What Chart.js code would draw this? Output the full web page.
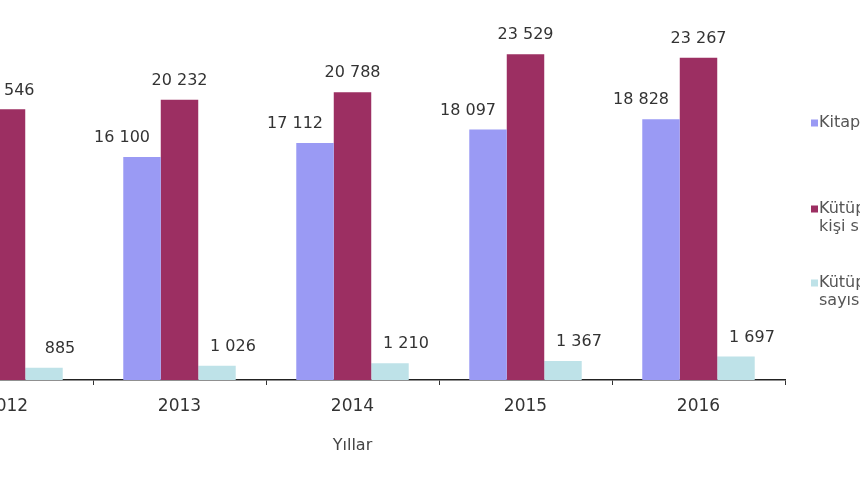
<!DOCTYPE html>
<html>
<head>
<meta charset="utf-8">
<script src="https://cdn.jsdelivr.net/npm/chart.js@4.4.1/dist/chart.umd.min.js"></script>
<style>
  html, body { margin: 0; padding: 0; background: #ffffff; overflow: hidden; width: 860px; height: 480px; }
  #wrap { position: absolute; left: -100px; top: 0; width: 1220px; height: 480px; }
</style>
</head>
<body>
<div id="wrap"><canvas id="c" width="1220" height="480"></canvas></div>
<script>
// ---- data ----
const years = ['2012', '2013', '2014', '2015', '2016'];
const bookCounts = [15000, 16100, 17112, 18097, 18828];
const visitorCounts = [19546, 20232, 20788, 23529, 23267];
const memberCounts = [885, 1026, 1210, 1367, 1697];
const seriesLabels = [
  ['Kitap sayısı (bin)'],
  ['Kütüphaneden yararlanan', 'kişi sayısı (bin)'],
  ['Kütüphaneye kayıtlı üye', 'sayısı (bin)']
];
const axisTitle = 'Yıllar';

// ---- style ----
const colors = ['#9a9af4', '#9c2f62', '#bee2e8'];
const labelShift = [-20, 0, 16];
const FONT = 'DejaVu Sans';

function fmt(v) {
  return String(v).replace(/\B(?=(\d{3})+(?!\d))/g, ' ');
}

const valueLabels = {
  id: 'valueLabels',
  afterDatasetsDraw(chart) {
    const ctx = chart.ctx;
    ctx.save();
    ctx.font = '16px "' + FONT + '"';
    ctx.fillStyle = '#333333';
    ctx.textAlign = 'center';
    ctx.textBaseline = 'middle';
    chart.data.datasets.forEach((ds, di) => {
      const meta = chart.getDatasetMeta(di);
      meta.data.forEach((el, i) => {
        ctx.fillText(fmt(ds.data[i]), el.x + labelShift[di], el.y - 19);
      });
    });
    ctx.restore();
  }
};

const sideLegend = {
  id: 'sideLegend',
  afterDraw(chart) {
    const ctx = chart.ctx;
    const x0 = chart.chartArea.right + 26;
    const yCenters = [123, 209, 283];
    ctx.save();
    ctx.font = '16px "' + FONT + '"';
    ctx.textAlign = 'left';
    ctx.textBaseline = 'middle';
    chart.data.datasets.forEach((ds, di) => {
      const y = yCenters[di];
      ctx.fillStyle = ds.backgroundColor;
      ctx.fillRect(x0, y - 3.5, 7, 7);
      ctx.fillStyle = '#555555';
      seriesLabels[di].forEach((line, li) => {
        ctx.fillText(line, x0 + 8, y + li * 18);
      });
    });
    ctx.restore();
  }
};

Chart.defaults.font.family = FONT;

new Chart(document.getElementById('c'), {
  type: 'bar',
  data: {
    labels: years,
    datasets: [
      { label: seriesLabels[0].join(' '), data: bookCounts, backgroundColor: colors[0] },
      { label: seriesLabels[1].join(' '), data: visitorCounts, backgroundColor: colors[1] },
      { label: seriesLabels[2].join(' '), data: memberCounts, backgroundColor: colors[2] }
    ]
  },
  options: {
    responsive: false,
    animation: false,
    devicePixelRatio: 1,
    layout: { padding: { left: 20, right: 335, top: 20, bottom: 0 } },
    datasets: { bar: { barPercentage: 1.0, categoryPercentage: 0.65 } },
    plugins: {
      legend: { display: false },
      tooltip: { enabled: false },
      title: { display: false }
    },
    scales: {
      x: {
        offset: true,
        grid: {
          display: true,
          offset: true,
          drawOnChartArea: false,
          drawTicks: true,
          tickLength: 5,
          color: '#333333',
          lineWidth: 1
        },
        border: { display: true, color: '#222222', width: 1.5 },
        ticks: {
          color: '#333333',
          font: { size: 17, family: FONT },
          padding: 11,
          maxRotation: 0
        },
        title: {
          display: true,
          text: axisTitle,
          color: '#444444',
          font: { size: 16, family: FONT },
          padding: { top: 0, bottom: 25 }
        },
        afterFit(scale) { scale.height = 100; }
      },
      y: {
        display: false,
        min: 0,
        max: 26000
      }
    }
  },
  plugins: [valueLabels, sideLegend]
});
</script>
</body>
</html>
